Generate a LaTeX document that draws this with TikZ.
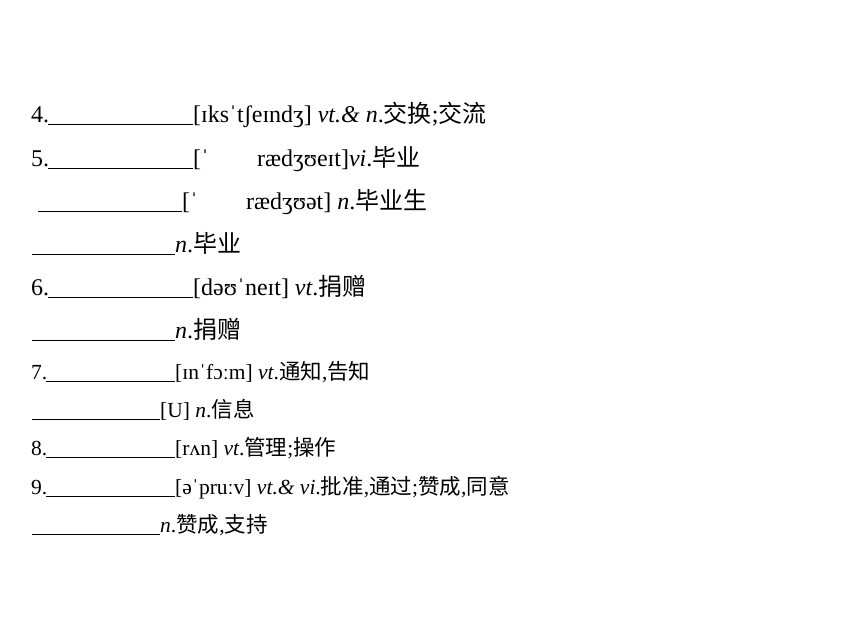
\documentclass[tikz,border=0pt]{standalone}
\usepackage{fontspec}
\setmainfont{Liberation Serif}
\newfontfamily\cjk{Noto Sans CJK SC}
\begin{document}
\begin{tikzpicture}[x=1pt,y=-1pt,
  big/.style={anchor=base west,inner sep=0pt,font=\fontsize{24}{26}\selectfont},
  small/.style={anchor=base west,inner sep=0pt,font=\fontsize{21.5}{23}\selectfont},
  blank/.style={line width=1pt,black}]
\useasboundingbox (0,0) rectangle (860,643);
% line 1
\node[big] (n4) at (31,122) {4.};
\coordinate (u1a) at (48,124); \coordinate (u1b) at (193,124);
\draw[blank] (u1a) -- (u1b);
\node[big] (t4) at (193,122) {[ɪksˈtʃeɪndʒ] \textit{vt.\&} \textit{n}.{\cjk 交换};{\cjk 交流}};
% line 2
\node[big] (n5) at (31,166) {5.};
\coordinate (u2a) at (48,168); \coordinate (u2b) at (193,168);
\draw[blank] (u2a) -- (u2b);
\node[big] (t5a) at (193,166) {[ˈ};
\node[big] (t5b) at (257,166) {rædʒʊeɪt]\textit{vi}.{\cjk 毕业}};
% line 3
\coordinate (u3a) at (38,211); \coordinate (u3b) at (182,211);
\draw[blank] (u3a) -- (u3b);
\node[big] (t5c) at (182,209) {[ˈ};
\node[big] (t5d) at (246,209) {rædʒʊət] \textit{n}.{\cjk 毕业生}};
% line 4
\coordinate (u4a) at (32,254); \coordinate (u4b) at (175,254);
\draw[blank] (u4a) -- (u4b);
\node[big] (t5e) at (175,252) {\textit{n}.{\cjk 毕业}};
% line 5
\node[big] (n6) at (31,295) {6.};
\coordinate (u5a) at (48,297); \coordinate (u5b) at (193,297);
\draw[blank] (u5a) -- (u5b);
\node[big] (t6) at (193,295) {[dəʊˈneɪt] \textit{vt}.{\cjk 捐赠}};
% line 6
\coordinate (u6a) at (32,340); \coordinate (u6b) at (175,340);
\draw[blank] (u6a) -- (u6b);
\node[big] (t6b) at (175,338) {\textit{n}.{\cjk 捐赠}};
% line 7
\node[small] (n7) at (31,379) {7.};
\coordinate (u7a) at (46,381); \coordinate (u7b) at (175,381);
\draw[blank] (u7a) -- (u7b);
\node[small] (t7) at (175,379) {[ɪnˈfɔːm] \textit{vt}.{\cjk 通知},{\cjk 告知}};
% line 8
\coordinate (u8a) at (32,419); \coordinate (u8b) at (160,419);
\draw[blank] (u8a) -- (u8b);
\node[small] (t7b) at (160,417) {[U] \textit{n}.{\cjk 信息}};
% line 9
\node[small] (n8) at (31,455) {8.};
\coordinate (u9a) at (46,457); \coordinate (u9b) at (175,457);
\draw[blank] (u9a) -- (u9b);
\node[small] (t8) at (175,455) {[rʌn] \textit{vt}.{\cjk 管理};{\cjk 操作}};
% line 10
\node[small] (n9) at (31,494) {9.};
\coordinate (u10a) at (46,496); \coordinate (u10b) at (175,496);
\draw[blank] (u10a) -- (u10b);
\node[small] (t9) at (175,494) {[əˈpruːv] \textit{vt.\&} \textit{vi}.{\cjk 批准},{\cjk 通过};{\cjk 赞成},{\cjk 同意}};
% line 11
\coordinate (u11a) at (32,534); \coordinate (u11b) at (160,534);
\draw[blank] (u11a) -- (u11b);
\node[small] (t9b) at (160,532) {\textit{n}.{\cjk 赞成},{\cjk 支持}};
\end{tikzpicture}
\end{document}
